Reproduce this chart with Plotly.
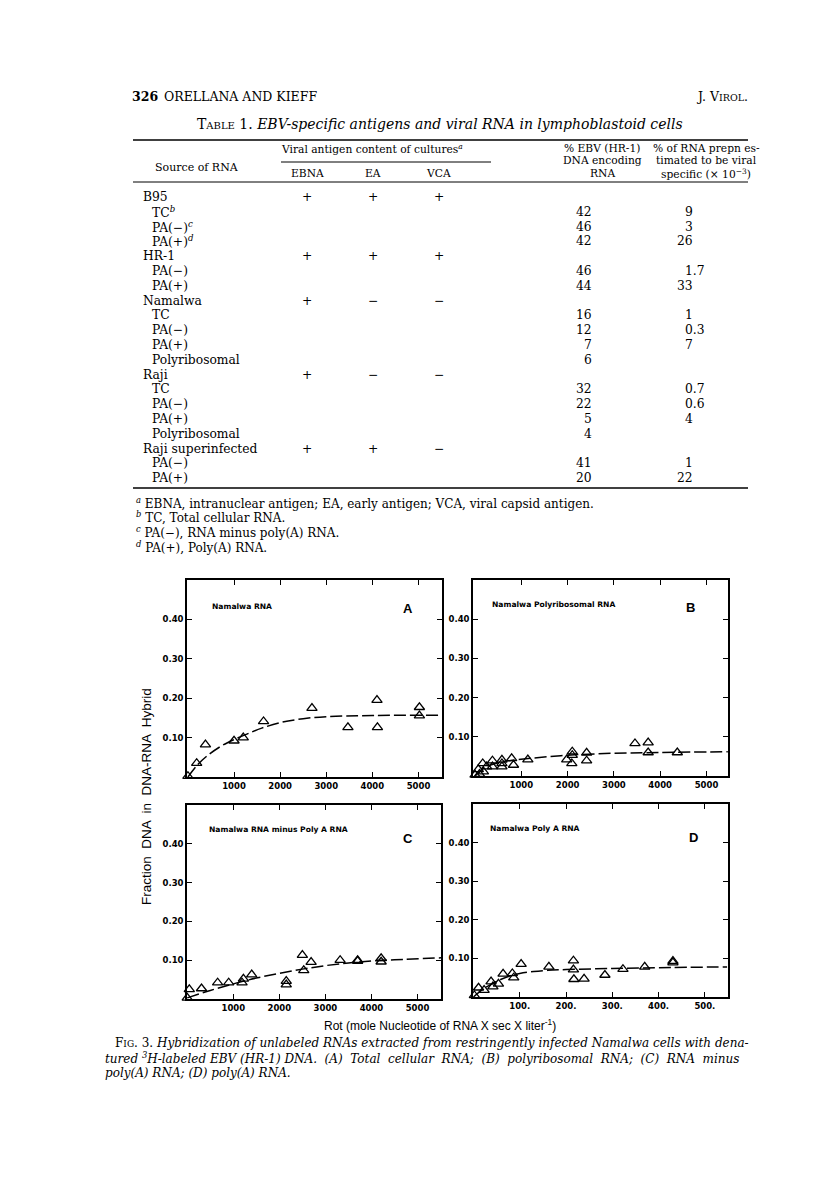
import plotly.graph_objects as go

W, H = 816, 1188

def X(px):
    return px / W

def Y(py):
    return 1 - py / H

# ---------------- Table data ----------------
row_labels = ["B95", "TC<sup><i>b</i></sup>", "PA(−)<sup><i>c</i></sup>", "PA(+)<sup><i>d</i></sup>",
              "HR-1", "PA(−)", "PA(+)",
              "Namalwa", "TC", "PA(−)", "PA(+)", "Polyribosomal",
              "Raji", "TC", "PA(−)", "PA(+)", "Polyribosomal",
              "Raji superinfected", "PA(−)", "PA(+)"]
row_indent = [0, 1, 1, 1, 0, 1, 1, 0, 1, 1, 1, 1, 0, 1, 1, 1, 1, 0, 1, 1]
ebna = ["+", "", "", "", "+", "", "", "+", "", "", "", "", "+", "", "", "", "", "+", "", ""]
ea = ["+", "", "", "", "+", "", "", "−", "", "", "", "", "−", "", "", "", "", "+", "", ""]
vca = ["+", "", "", "", "+", "", "", "−", "", "", "", "", "−", "", "", "", "", "−", "", ""]
pct_ebv = ["", "42", "46", "42", "", "46", "44", "", "16", "12", "7", "6",
           "", "32", "22", "5", "4", "", "41", "20"]
pct_viral = ["", "9", "3", "26", "", "1.7", "33", "", "1", "0.3", "7", "",
             "", "0.7", "0.6", "4", "", "", "1", "22"]
footnotes = ["<sup><i>a</i></sup> EBNA, intranuclear antigen; EA, early antigen; VCA, viral capsid antigen.",
             "<sup><i>b</i></sup> TC, Total cellular RNA.",
             "<sup><i>c</i></sup> PA(−), RNA minus poly(A) RNA.",
             "<sup><i>d</i></sup> PA(+), Poly(A) RNA."]

# ---------------- Figure data ----------------
A_x = [0, 190, 380, 1000, 1200, 1640, 2690, 3470, 4100, 4110, 5020, 5020]
A_y = [0.002, 0.035, 0.082, 0.092, 0.100, 0.141, 0.175, 0.126, 0.195, 0.126, 0.177, 0.156]
A_cx = [0, 200, 400, 700, 1000, 1300, 1600, 2000, 2500, 3000, 4000, 5520]
A_cy = [0.0, 0.030, 0.052, 0.077, 0.095, 0.110, 0.124, 0.138, 0.148, 0.153, 0.156, 0.157]

B_x = [0, 95, 70, 165, 180, 250, 375, 375, 580, 580, 580, 790, 830, 1140, 1980, 2090,
       2100, 2100, 2410, 2410, 3455, 3740, 3740, 4370]
B_y = [0.003, 0.005, 0.017, 0.032, 0.011, 0.024, 0.039, 0.024, 0.041, 0.032, 0.024, 0.045,
       0.028, 0.042, 0.042, 0.032, 0.062, 0.053, 0.059, 0.039, 0.083, 0.085, 0.060, 0.060]
B_cx = [0, 100, 250, 500, 800, 1200, 2000, 3000, 4000, 5460]
B_cy = [0.0, 0.012, 0.024, 0.034, 0.040, 0.045, 0.053, 0.058, 0.060, 0.062]

C_x = [0, 45, 310, 660, 900, 1190, 1220, 1400, 2150, 2150, 2500, 2530, 2690, 3320, 3700, 3700, 4210, 4210]
C_y = [0.003, 0.025, 0.027, 0.042, 0.042, 0.042, 0.052, 0.063, 0.046, 0.037, 0.113, 0.074,
       0.095, 0.100, 0.100, 0.098, 0.105, 0.096]
C_cx = [0, 500, 1000, 1500, 2000, 2500, 3000, 3500, 4000, 4500, 5510]
C_cy = [0.003, 0.022, 0.039, 0.054, 0.066, 0.077, 0.086, 0.093, 0.098, 0.101, 0.106]

D_x = [2, 11, 23, 38, 42, 54, 64, 84, 87, 103, 163, 216, 216, 217, 239, 284, 323, 370, 431, 431]
D_y = [0.004, 0.024, 0.018, 0.040, 0.027, 0.034, 0.060, 0.061, 0.050, 0.085, 0.078, 0.094,
       0.071, 0.046, 0.047, 0.057, 0.072, 0.078, 0.093, 0.089]
D_cx = [0, 20, 40, 60, 80, 100, 130, 160, 200, 300, 400, 548]
D_cy = [0.0, 0.020, 0.034, 0.046, 0.055, 0.061, 0.066, 0.069, 0.071, 0.074, 0.076, 0.078]

panel_titles = ["Namalwa RNA", "Namalwa Polyribosomal RNA", "Namalwa RNA minus Poly A RNA", "Namalwa Poly A RNA"]
panel_letters = ["A", "B", "C", "D"]
y_ticks = [0.10, 0.20, 0.30, 0.40]
y_ticktext = ["0.10", "0.20", "0.30", "0.40"]
rot_ticks = [1000, 2000, 3000, 4000, 5000]
rot_ticktext = ["1000", "2000", "3000", "4000", "5000"]
polyA_ticks = [100, 200, 300, 400, 500]
polyA_ticktext = ["100.", "200.", "300.", "400.", "500."]

panels = [
    dict(px=(A_x, A_y), cv=(A_cx, A_cy), dom=((187, 442), (580, 777)), xr=[-20, 5510],
         tv=rot_ticks, tt=rot_ticktext),
    dict(px=(B_x, B_y), cv=(B_cx, B_cy), dom=((473, 728), (580, 776)), xr=[-45, 5465],
         tv=rot_ticks, tt=rot_ticktext),
    dict(px=(C_x, C_y), cv=(C_cx, C_cy), dom=((187, 441), (805, 999)), xr=[-5, 5510],
         tv=rot_ticks, tt=rot_ticktext),
    dict(px=(D_x, D_y), cv=(D_cx, D_cy), dom=((473, 728), (804, 997)), xr=[-1, 550],
         tv=polyA_ticks, tt=polyA_ticktext),
]
title_pos = [(210, 606), (490, 604), (207, 829), (488, 828)]
letter_pos = [(408, 608), (690, 607), (408, 838), (693, 837)]

fig = go.Figure()
layout = {}
sans_b = dict(family="DejaVu Sans", size=8.5, color="black", weight="bold")

for i, p in enumerate(panels):
    n = "" if i == 0 else str(i + 1)
    xa, ya = "x" + n, "y" + n
    fig.add_trace(go.Scatter(x=p["cv"][0], y=p["cv"][1], xaxis=xa, yaxis=ya, mode="lines",
                             line=dict(color="black", width=1.5, dash="12px,4px", shape="spline"),
                             showlegend=False, hoverinfo="skip"))
    fig.add_trace(go.Scatter(x=p["px"][0], y=p["px"][1], xaxis=xa, yaxis=ya, mode="markers",
                             marker=dict(symbol="triangle-up-open", size=9, color="black",
                                         line=dict(width=1.3, color="black")),
                             cliponaxis=False, showlegend=False))
    (x0, x1), (y0, y1) = p["dom"]
    common = dict(showline=True, linecolor="black", linewidth=1.5, mirror="ticks",
                  ticks="inside", ticklen=5, tickwidth=1.3, tickcolor="black",
                  showgrid=False, zeroline=False, tickfont=sans_b)
    layout["xaxis" + n] = dict(domain=[X(x0), X(x1)], range=p["xr"], anchor=ya,
                               tickmode="array", tickvals=p["tv"], ticktext=p["tt"], **common)
    layout["yaxis" + n] = dict(domain=[Y(y1), Y(y0)], range=[0, 0.5], anchor=xa,
                               tickmode="array", tickvals=y_ticks, ticktext=y_ticktext, **common)

fig.update_layout(**layout)

ann = []
shapes = []

def txt(px, py, text, size=11.5, family="DejaVu Serif", xanchor="left", color="black", **kw):
    ann.append(dict(x=X(px), y=Y(py), xref="paper", yref="paper", text=text, showarrow=False,
                    xanchor=xanchor, yanchor="middle", font=dict(family=family, size=size, color=color), **kw))

# panel titles / letters
for (tx, ty), t in zip(title_pos, panel_titles):
    txt(tx, ty, "<b>" + t + "</b>", size=7.6, family="DejaVu Sans")
for (lx, ly), l in zip(letter_pos, panel_letters):
    txt(lx, ly, "<b>" + l + "</b>", size=13, family="Liberation Sans", xanchor="center")

# axis titles
txt(146, 797, "Fraction  DNA  in  DNA-RNA  Hybrid", size=13.5, family="Liberation Sans",
    xanchor="center", textangle=-90)
txt(440, 1025, "Rot (mole Nucleotide of RNA X sec X liter<sup>-1</sup>)", size=12,
    family="Liberation Sans", xanchor="center")

# page header
txt(130, 97, "<b>326</b>", size=12.5)
txt(162, 97, "ORELLANA AND KIEFF", size=12.5)
txt(750, 97, "J. V<span style='font-size:9.5px'>IROL</span>.", size=12.5, xanchor="right")

# table title
txt(440, 124, "T<span style='font-size:10px'>ABLE</span> 1. <i>EBV-specific antigens and viral RNA in lymphoblastoid cells</i>",
    size=14, xanchor="center")

# table rules
for (yy, xa0, xa1, w) in [(140, 133, 748, 1.4), (162, 281, 491, 1.0), (182, 133, 748, 1.0), (488, 133, 748, 1.4)]:
    shapes.append(dict(type="line", xref="paper", yref="paper", x0=X(xa0), x1=X(xa1), y0=Y(yy), y1=Y(yy),
                       line=dict(color="black", width=w)))

# table headers
hs = 10.7
txt(197, 167, "Source of RNA", size=11, xanchor="center")
txt(372, 149, "Viral antigen content of cultures<sup><i>a</i></sup>", size=hs, xanchor="center")
txt(307, 174, "EBNA", size=hs, xanchor="center")
txt(373, 174, "EA", size=hs, xanchor="center")
txt(438, 174, "VCA", size=hs, xanchor="center")
txt(602, 148, "% EBV (HR-1)", size=hs, xanchor="center")
txt(602, 161, "DNA encoding", size=hs, xanchor="center")
txt(602, 174, "RNA", size=hs, xanchor="center")
txt(706, 148, "% of RNA prepn es-", size=hs, xanchor="center")
txt(706, 161, "timated to be viral", size=hs, xanchor="center")
txt(706, 174, "specific (× 10<sup>−3</sup>)", size=hs, xanchor="center")

# table rows
bs = 12.3
for i, lab in enumerate(row_labels):
    yy = 197 + i * 14.8
    txt(150 if row_indent[i] else 141, yy, lab, size=bs)
    for cx, v in ((307, ebna[i]), (373, ea[i]), (439, vca[i])):
        if v:
            txt(cx, yy, v, size=bs, xanchor="center")
    if pct_ebv[i]:
        txt(594, yy, pct_ebv[i], size=bs, xanchor="right")
    if pct_viral[i]:
        if "." in pct_viral[i]:
            txt(683, yy, pct_viral[i], size=bs, xanchor="left")
        else:
            txt(695, yy, pct_viral[i], size=bs, xanchor="right")

# footnotes
for i, f in enumerate(footnotes):
    txt(134, 503 + i * 14.5, f, size=12)

# caption
cap = ["F<span style='font-size:9px'>IG</span>. 3. <i>Hybridization of unlabeled RNAs extracted from restringently infected Namalwa cells with dena-</i>",
       "<i>tured <sup>3</sup>H-labeled EBV (HR-1) DNA.  (A)  Total  cellular  RNA;  (B)  polyribosomal  RNA;  (C)  RNA  minus</i>",
       "<i>poly(A) RNA; (D) poly(A) RNA.</i>"]
txt(113, 1043, cap[0], size=12)
txt(103, 1058, cap[1], size=12)
txt(103, 1073, cap[2], size=12)

fig.update_layout(width=W, height=H, margin=dict(l=0, r=0, t=0, b=0),
                  paper_bgcolor="white", plot_bgcolor="white",
                  annotations=ann, shapes=shapes, showlegend=False)

fig.write_html("out.html", config={"displayModeBar": False},
               post_script="document.body.style.margin='0';document.body.style.overflow='hidden';")
